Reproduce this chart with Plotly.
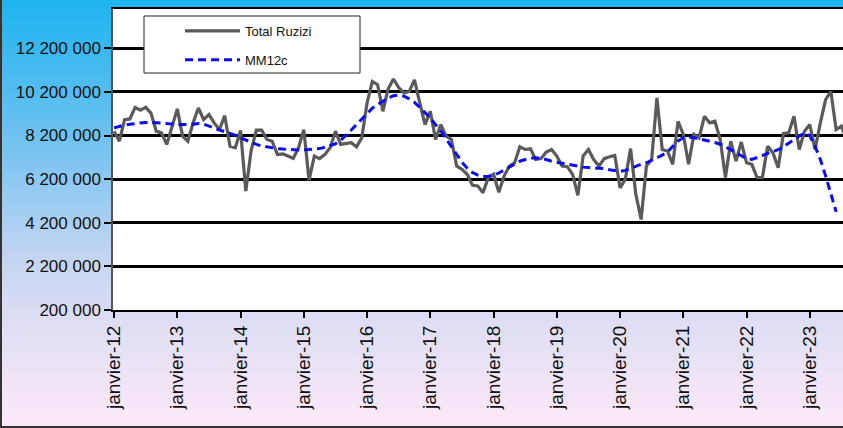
import plotly.graph_objects as go

# Catégories : mois de janvier 2012 à décembre 2023
MOIS_FR = ["janvier", "février", "mars", "avril", "mai", "juin", "juillet",
           "août", "septembre", "octobre", "novembre", "décembre"]
mois = [f"{m}-{a}" for a in range(12, 24) for m in MOIS_FR]

# Total Ruzizi (valeurs mensuelles)
total_ruzizi = [
    8400000, 7940000, 8930000, 8960000, 9490000, 9360000, 9490000, 9230000, 8400000, 8320000, 7790000, 8630000,
    9420000, 8170000, 7940000, 8780000, 9460000, 8930000, 9160000, 8780000, 8470000, 9110000, 7710000, 7640000,
    8430000, 5650000, 7500000, 8450000, 8450000, 8020000, 7940000, 7330000, 7360000, 7260000, 7150000, 7640000,
    8470000, 6150000, 7260000, 7140000, 7330000, 7640000, 8400000, 7790000, 7830000, 7870000, 7680000, 8090000,
    9690000, 10680000, 10530000, 9310000, 10330000, 10790000, 10400000, 10150000, 10220000, 10750000, 9700000, 8700000,
    9310000, 8020000, 8700000, 8170000, 8020000, 6800000, 6650000, 6420000, 5920000, 5890000, 5580000, 6270000,
    6420000, 5600000, 6340000, 6800000, 6950000, 7680000, 7560000, 7590000, 7100000, 7140000, 7440000, 7560000,
    7260000, 6800000, 6770000, 6420000, 5460000, 7260000, 7560000, 7100000, 6800000, 7140000, 7230000, 7290000,
    5800000, 6200000, 7600000, 5500000, 4350000, 6800000, 7100000, 9920000, 7560000, 7490000, 6880000, 8850000,
    8250000, 6880000, 8250000, 8090000, 9080000, 8780000, 8850000, 8020000, 6270000, 7940000, 7030000, 7900000,
    6950000, 6880000, 6270000, 6270000, 7710000, 7410000, 6720000, 8290000, 8320000, 9080000, 7560000, 8400000,
    8700000, 7560000, 8780000, 9840000, 10220000, 8470000, 8630000, 8000000,
]

# Moyenne mobile 12 mois centrée
mm12c = [
    8550000, 8620000, 8680000, 8720000, 8750000, 8780000, 8800000, 8800000, 8790000, 8770000, 8750000, 8730000,
    8710000, 8700000, 8700000, 8720000, 8750000, 8720000, 8650000, 8550000, 8450000, 8380000, 8300000, 8200000,
    8100000, 7980000, 7880000, 7790000, 7720000, 7670000, 7630000, 7600000, 7580000, 7560000, 7550000, 7540000,
    7540000, 7550000, 7560000, 7600000, 7660000, 7730000, 7820000, 7980000, 8200000, 8450000, 8700000, 8950000,
    9200000, 9450000, 9620000, 9770000, 9920000, 10020000, 10050000, 10000000, 9880000, 9720000, 9500000, 9250000,
    9000000, 8720000, 8400000, 8050000, 7680000, 7300000, 6980000, 6700000, 6500000, 6380000, 6320000, 6330000,
    6380000, 6480000, 6620000, 6780000, 6920000, 7020000, 7100000, 7160000, 7180000, 7150000, 7100000, 7020000,
    6970000, 6930000, 6880000, 6830000, 6780000, 6750000, 6730000, 6720000, 6700000, 6680000, 6630000, 6580000,
    6550000, 6600000, 6700000, 6800000, 6880000, 6950000, 7050000, 7180000, 7300000, 7450000, 7700000, 7950000,
    8100000, 8130000, 8100000, 8050000, 8000000, 7950000, 7880000, 7800000, 7680000, 7550000, 7400000, 7270000,
    7150000, 7100000, 7180000, 7280000, 7380000, 7450000, 7550000, 7680000, 7850000, 8020000, 8180000, 8300000,
    8200000, 7700000, 7100000, 6350000, 5500000, 4700000,
]

y_ticks = [200000, 2200000, 4200000, 6200000, 8200000, 10200000, 12200000]
y_labels = ["200 000", "2 200 000", "4 200 000", "6 200 000", "8 200 000", "10 200 000", "12 200 000"]
x_ticks = [f"janvier-{a}" for a in range(12, 24)]

W, H = 843, 428
L, T, B = 113, 9, 118
pw, ph = W - L, H - T - B

fig = go.Figure()
fig.add_trace(go.Scatter(x=mois[:len(total_ruzizi)], y=total_ruzizi, name="Total Ruzizi",
                         mode="lines", line=dict(color="#5a5a5a", width=3.2),
                         legendgroup="a"))
fig.add_trace(go.Scatter(x=mois[:len(mm12c)], y=mm12c, name="MM12c",
                         mode="lines", line=dict(color="#0a0af5", width=3, dash="8px,5px"),
                         legendgroup="b"))

# fond dégradé bleu (haut) -> rose (bas), en bandes horizontales
stops = [(0.0, (30, 180, 240)), (0.3, (105, 192, 240)), (0.6, (195, 212, 242)),
         (0.75, (222, 222, 244)), (1.0, (253, 233, 248))]

def grad(t):
    for (t0, c0), (t1, c1) in zip(stops[:-1], stops[1:]):
        if t <= t1:
            f = (t - t0) / (t1 - t0)
            return "rgb(%d,%d,%d)" % tuple(round(a + (b - a) * f) for a, b in zip(c0, c1))
    return "rgb(%d,%d,%d)" % stops[-1][1]

def py(pix):
    # pixel vertical -> coordonnée paper
    return (H - B - pix) / ph

shapes = []
n = 60
for i in range(n):
    top = i * H / n
    bot = (i + 1) * H / n + 1
    shapes.append(dict(type="rect", xref="paper", yref="paper", layer="below",
                       x0=-L / pw - 0.01, x1=1.01, y0=py(bot), y1=py(top),
                       line=dict(width=0), fillcolor=grad((i + 0.5) / n)))
# zone de tracé blanche
shapes.append(dict(type="rect", xref="paper", yref="paper", layer="below",
                   x0=0, x1=1.01, y0=0, y1=1, line=dict(width=0), fillcolor="white"))
# bordure extérieure gauche et bas
shapes.append(dict(type="line", xref="paper", yref="paper", x0=-(L - 1) / pw, x1=-(L - 1) / pw,
                   y0=py(H), y1=py(0), line=dict(color="#333333", width=2)))
shapes.append(dict(type="line", xref="paper", yref="paper", x0=-L / pw, x1=1.01,
                   y0=py(H - 1), y1=py(H - 1), line=dict(color="#333333", width=2)))
# cadre de la légende
shapes.append(dict(type="rect", xref="paper", yref="paper", layer="above",
                   x0=(144 - L) / pw, x1=(360 - L) / pw, y0=py(73), y1=py(16),
                   line=dict(color="#222222", width=1), fillcolor="white"))

fig.update_layout(
    width=W, height=H,
    margin=dict(l=L, r=0, t=T, b=B, pad=0, autoexpand=False),
    paper_bgcolor="white", plot_bgcolor="white",
    font=dict(family="Liberation Sans, Arial, sans-serif", color="#111111"),
    shapes=shapes,
    showlegend=True,
    legend=dict(x=(180 - L) / pw, y=py(16), xanchor="left", yanchor="top",
                bgcolor="rgba(0,0,0,0)", borderwidth=0, font=dict(size=13),
                itemwidth=55, tracegroupgap=9),
)
fig.update_xaxes(
    type="category", categoryorder="array", categoryarray=mois, automargin=False,
    range=[-0.2, 138.3], tickmode="array", tickvals=x_ticks, ticktext=x_ticks,
    tickangle=-90, tickfont=dict(size=19), ticks="outside", ticklen=6, tickwidth=1.5,
    tickcolor="black", showgrid=False, showline=True, linecolor="black", linewidth=2,
    mirror=True, zeroline=False,
)
fig.update_yaxes(
    range=[200000, 14000000], tickmode="array", tickvals=y_ticks, ticktext=y_labels,
    automargin=False,
    tickfont=dict(size=17), ticks="outside", ticklen=7, tickwidth=1.5, tickcolor="black",
    showgrid=True, gridcolor="black", gridwidth=2.5, showline=True, linecolor="#555555",
    linewidth=1.5, zeroline=False,
)

# page sans marge pour que la figure occupe toute la fenêtre
fig.write_html("out.html", config={"displayModeBar": False},
               post_script="document.body.style.margin='0';")
